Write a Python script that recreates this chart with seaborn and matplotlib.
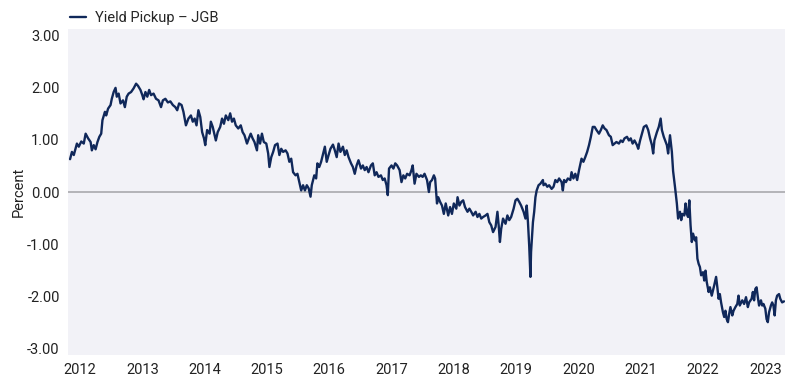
import matplotlib
matplotlib.use("Agg")
import matplotlib.pyplot as plt
import seaborn as sns
import pandas as pd

# yield pickup of JGB (percent), x in decimal years
years = [
    2011.84, 2011.87, 2011.90, 2011.95, 2011.98, 2012.02, 2012.06, 2012.09, 2012.13, 2012.17,
    2012.19, 2012.22, 2012.25, 2012.28, 2012.31, 2012.34, 2012.36, 2012.40, 2012.42, 2012.45,
    2012.49, 2012.51, 2012.54, 2012.57, 2012.59, 2012.62, 2012.65, 2012.69, 2012.72, 2012.75,
    2012.78, 2012.82, 2012.86, 2012.90, 2012.93, 2012.97, 2013.00, 2013.02, 2013.05, 2013.08,
    2013.11, 2013.14, 2013.18, 2013.22, 2013.26, 2013.30, 2013.33, 2013.37, 2013.41, 2013.45,
    2013.49, 2013.53, 2013.56, 2013.59, 2013.63, 2013.66, 2013.70, 2013.74, 2013.78, 2013.81,
    2013.84, 2013.87, 2013.90, 2013.93, 2013.96, 2013.99, 2014.01, 2014.04, 2014.08, 2014.10,
    2014.13, 2014.16, 2014.18, 2014.21, 2014.25, 2014.28, 2014.31, 2014.34, 2014.38, 2014.41,
    2014.44, 2014.47, 2014.50, 2014.54, 2014.58, 2014.61, 2014.64, 2014.68, 2014.71, 2014.74,
    2014.77, 2014.80, 2014.84, 2014.86, 2014.89, 2014.92, 2014.95, 2014.99, 2015.02, 2015.04,
    2015.07, 2015.10, 2015.13, 2015.17, 2015.20, 2015.23, 2015.26, 2015.30, 2015.33, 2015.36,
    2015.39, 2015.42, 2015.46, 2015.49, 2015.52, 2015.55, 2015.58, 2015.61, 2015.64, 2015.67,
    2015.70, 2015.72, 2015.76, 2015.79, 2015.81, 2015.84, 2015.87, 2015.91, 2015.93, 2015.96,
    2015.99, 2016.02, 2016.06, 2016.09, 2016.12, 2016.15, 2016.18, 2016.22, 2016.25, 2016.28,
    2016.31, 2016.35, 2016.38, 2016.41, 2016.44, 2016.47, 2016.51, 2016.54, 2016.57, 2016.60,
    2016.63, 2016.67, 2016.70, 2016.73, 2016.76, 2016.79, 2016.83, 2016.86, 2016.89, 2016.92,
    2016.94, 2016.96, 2017.00, 2017.03, 2017.06, 2017.09, 2017.13, 2017.16, 2017.19, 2017.22,
    2017.25, 2017.29, 2017.32, 2017.34, 2017.37, 2017.40, 2017.44, 2017.47, 2017.50, 2017.53,
    2017.57, 2017.60, 2017.62, 2017.65, 2017.68, 2017.70, 2017.73, 2017.75, 2017.78, 2017.81,
    2017.84, 2017.87, 2017.91, 2017.94, 2017.97, 2018.00, 2018.04, 2018.06, 2018.09, 2018.12,
    2018.15, 2018.18, 2018.22, 2018.25, 2018.28, 2018.31, 2018.35, 2018.38, 2018.41, 2018.44,
    2018.47, 2018.51, 2018.54, 2018.57, 2018.60, 2018.63, 2018.67, 2018.70, 2018.72, 2018.74,
    2018.76, 2018.79, 2018.83, 2018.86, 2018.89, 2018.92, 2018.96, 2018.99, 2019.02, 2019.05,
    2019.08, 2019.12, 2019.15, 2019.17, 2019.19, 2019.21, 2019.23, 2019.24, 2019.27, 2019.29,
    2019.31, 2019.33, 2019.36, 2019.39, 2019.43, 2019.44, 2019.47, 2019.50, 2019.53, 2019.57,
    2019.60, 2019.63, 2019.66, 2019.69, 2019.73, 2019.75, 2019.77, 2019.80, 2019.83, 2019.87,
    2019.89, 2019.92, 2019.95, 2019.98, 2020.01, 2020.05, 2020.08, 2020.11, 2020.14, 2020.17,
    2020.20, 2020.23, 2020.26, 2020.29, 2020.33, 2020.36, 2020.39, 2020.42, 2020.45, 2020.49,
    2020.52, 2020.55, 2020.58, 2020.61, 2020.65, 2020.68, 2020.71, 2020.74, 2020.78, 2020.81,
    2020.84, 2020.87, 2020.90, 2020.94, 2020.96, 2020.99, 2021.02, 2021.05, 2021.09, 2021.12,
    2021.15, 2021.18, 2021.20, 2021.22, 2021.26, 2021.29, 2021.32, 2021.34, 2021.37, 2021.42,
    2021.44, 2021.47, 2021.50, 2021.52, 2021.55, 2021.58, 2021.60, 2021.63, 2021.65, 2021.67,
    2021.70, 2021.72, 2021.74, 2021.76, 2021.78, 2021.80, 2021.82, 2021.84, 2021.87, 2021.89,
    2021.91, 2021.93, 2021.95, 2021.97, 2022.00, 2022.02, 2022.04, 2022.06, 2022.09, 2022.11,
    2022.14, 2022.18, 2022.21, 2022.23, 2022.25, 2022.27, 2022.29, 2022.32, 2022.34, 2022.36,
    2022.38, 2022.40, 2022.42, 2022.44, 2022.47, 2022.49, 2022.52, 2022.55, 2022.57, 2022.59,
    2022.63, 2022.66, 2022.69, 2022.72, 2022.74, 2022.78, 2022.80, 2022.82, 2022.84, 2022.86,
    2022.88, 2022.90, 2022.93, 2022.95, 2022.97, 2023.00, 2023.02, 2023.04, 2023.06, 2023.09,
    2023.11, 2023.13, 2023.15, 2023.17, 2023.19, 2023.22, 2023.24, 2023.27, 2023.30,
]
pickup = [
    0.63, 0.77, 0.71, 0.93, 0.87, 0.97, 0.93, 1.12, 1.03, 0.96,
    0.80, 0.90, 0.82, 0.96, 1.06, 1.12, 1.38, 1.54, 1.47, 1.60,
    1.67, 1.79, 1.92, 2.00, 1.83, 1.89, 1.70, 1.76, 1.63, 1.83,
    1.89, 1.92, 1.99, 2.08, 2.04, 1.96, 1.86, 1.78, 1.92, 1.83,
    1.96, 1.86, 1.89, 1.79, 1.76, 1.63, 1.76, 1.79, 1.72, 1.74,
    1.67, 1.63, 1.57, 1.70, 1.67, 1.54, 1.28, 1.41, 1.47, 1.35,
    1.41, 1.28, 1.57, 1.44, 1.15, 1.03, 0.90, 1.19, 1.12, 1.35,
    1.25, 1.09, 0.99, 1.15, 1.25, 1.41, 1.31, 1.47, 1.38, 1.51,
    1.35, 1.41, 1.28, 1.22, 1.28, 1.15, 1.09, 0.93, 1.03, 1.12,
    1.03, 0.96, 0.80, 1.09, 0.93, 1.12, 0.96, 0.93, 0.74, 0.48,
    0.67, 0.77, 0.90, 0.93, 0.71, 0.83, 0.77, 0.80, 0.74, 0.58,
    0.64, 0.38, 0.32, 0.35, 0.19, 0.03, 0.13, 0.03, 0.13, 0.07,
    -0.09, 0.13, 0.32, 0.26, 0.55, 0.48, 0.58, 0.77, 0.87, 0.58,
    0.71, 0.83, 0.91, 0.80, 0.67, 0.93, 0.77, 0.87, 0.71, 0.80,
    0.67, 0.55, 0.48, 0.35, 0.51, 0.61, 0.45, 0.51, 0.42, 0.48,
    0.38, 0.51, 0.55, 0.32, 0.38, 0.29, 0.32, 0.23, 0.26, 0.13,
    -0.06, 0.45, 0.51, 0.45, 0.55, 0.51, 0.42, 0.19, 0.32, 0.26,
    0.35, 0.32, 0.42, 0.51, 0.16, 0.35, 0.29, 0.32, 0.29, 0.35,
    0.23, 0.00, 0.19, 0.23, 0.32, 0.26, -0.22, -0.10, -0.19, -0.26,
    -0.42, -0.22, -0.45, -0.29, -0.42, -0.22, -0.32, -0.10, -0.26, -0.19,
    -0.16, -0.29, -0.38, -0.32, -0.38, -0.45, -0.38, -0.48, -0.42, -0.51,
    -0.48, -0.45, -0.42, -0.58, -0.64, -0.77, -0.67, -0.38, -0.64, -0.96,
    -0.71, -0.51, -0.61, -0.45, -0.54, -0.48, -0.32, -0.16, -0.13, -0.19,
    -0.26, -0.38, -0.51, -0.26, -0.58, -1.03, -1.63, -1.15, -0.58, -0.38,
    -0.10, 0.03, 0.13, 0.16, 0.23, 0.13, 0.16, 0.10, 0.13, 0.06,
    0.10, 0.23, 0.19, 0.26, 0.19, 0.03, 0.23, 0.19, 0.26, 0.23,
    0.38, 0.26, 0.35, 0.23, 0.42, 0.64, 0.58, 0.67, 0.77, 0.90,
    1.06, 1.25, 1.25, 1.19, 1.12, 1.19, 1.28, 1.22, 1.19, 1.09,
    1.06, 0.90, 0.93, 0.96, 0.93, 0.99, 0.96, 1.03, 1.06, 0.99,
    1.03, 0.93, 0.99, 0.90, 0.83, 0.99, 1.12, 1.25, 1.28, 1.19,
    1.03, 0.90, 0.74, 0.99, 1.15, 1.25, 1.41, 1.19, 1.06, 0.90,
    0.74, 1.09, 0.77, 0.40, 0.10, -0.22, -0.51, -0.38, -0.54, -0.42,
    -0.45, -0.22, -0.42, -0.48, -0.16, -0.64, -0.96, -0.80, -0.93, -0.87,
    -1.28, -1.38, -1.44, -1.60, -1.54, -1.70, -1.51, -1.73, -1.92, -1.83,
    -1.99, -1.79, -1.63, -1.83, -2.05, -1.96, -2.12, -2.31, -2.40, -2.28,
    -2.44, -2.50, -2.34, -2.21, -2.37, -2.28, -2.21, -2.15, -1.99, -2.18,
    -2.08, -2.15, -2.02, -2.21, -2.12, -2.05, -1.92, -2.08, -1.86, -1.83,
    -2.02, -2.18, -2.08, -2.18, -2.15, -2.24, -2.44, -2.50, -2.31, -2.18,
    -2.12, -2.18, -2.37, -2.08, -1.99, -1.96, -2.05, -2.12, -2.10,
]
year_ticks = list(range(2012, 2024))
y_ticks = [-3, -2, -1, 0, 1, 2, 3]
series_name = "Yield Pickup \u2013 JGB"

df = pd.DataFrame({"year": years, "pickup": pickup})

sns.set_theme(style="white")
plt.rcParams["font.family"] = ["Roboto", "DejaVu Sans"]
plt.rcParams["axes.unicode_minus"] = False

fig = plt.figure(figsize=(7.92, 3.82), dpi=100)
ax = fig.add_axes([68 / 792, 1 - 355 / 382, (785 - 68) / 792, (355 - 29) / 382])
ax.set_facecolor("#f2f2f7")

ax.axhline(0, color="#a9a9ad", lw=1.2, zorder=1)
sns.lineplot(data=df, x="year", y="pickup", ax=ax, color="#10285a", lw=1.7,
             label=series_name, zorder=2)

ax.set_xlim(2011.807, 2023.316)
ax.set_ylim(-3.13, 3.13)
ax.set_xticks(year_ticks)
ax.set_xticklabels([str(y) for y in year_ticks], fontsize=10.5, color="#222222")
ax.set_yticks(y_ticks)
ax.set_yticklabels([f"{v:.2f}" for v in y_ticks], fontsize=10.5, color="#222222")
ax.tick_params(axis="both", length=0)
ax.tick_params(axis="y", pad=6)
ax.tick_params(axis="x", pad=6)
ax.set_xlabel("")
ax.set_ylabel("Percent", fontsize=10.5, color="#222222", labelpad=1)
for s in ax.spines.values():
    s.set_visible(False)

ax.legend(loc="lower left", bbox_to_anchor=(-0.003, 1.0), frameon=False,
          handlelength=1.1, handletextpad=0.6, fontsize=10.5, borderpad=0.2,
          borderaxespad=0.1)

fig.savefig("out.png", dpi=100)
